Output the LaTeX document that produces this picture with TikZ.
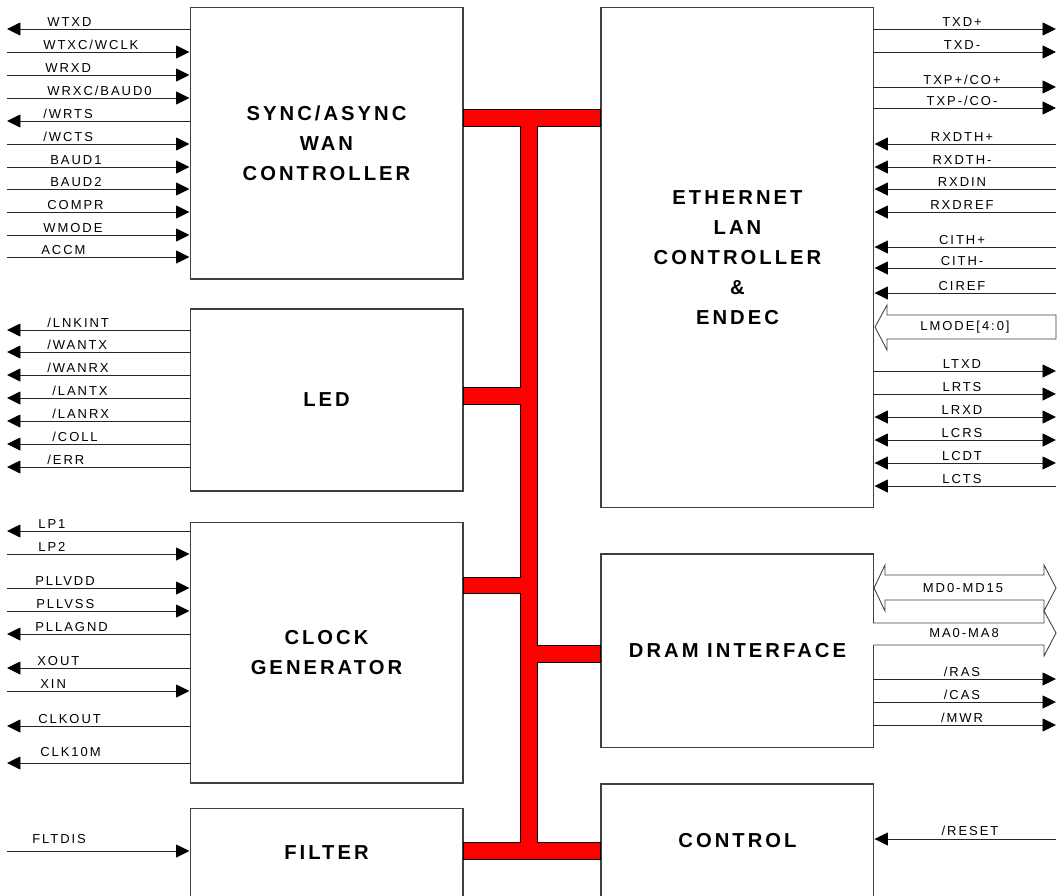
\documentclass[tikz,border=0pt]{standalone}
\usepackage{fontspec}
\setmainfont{Liberation Sans}
\newfontfamily\pinfont[LetterSpace=15]{Liberation Sans}
\newfontfamily\blkfont[LetterSpace=15]{Liberation Sans}
\usetikzlibrary{positioning,arrows.meta,calc}

\begin{document}
\begin{tikzpicture}[x=0.02cm, y=-0.02cm,
    >={Triangle[length=0.27cm,width=0.26cm,color=black]},
    blk/.style={draw=black!75, line width=0.6pt, minimum width=5.46cm, align=center, font=\blkfont\bfseries\fontsize{11.5}{17}\selectfont},
    pin/.style={draw=black!85, line width=0.5pt},
    lbl/.style={inner sep=0pt, font=\pinfont\fontsize{7.4}{9}\selectfont},
    hollow/.style={draw=black!75, line width=0.5pt, fill=white},
    bus/.style={fill=red, draw=black, line width=0.4pt}
]
\useasboundingbox (0,0) rectangle (1062,896);

    % Left column
    \node[blk, minimum height=5.44cm] (wan) at (326.5,143) {SYNC/ASYNC\\WAN\\CONTROLLER};
    \node[blk, minimum height=3.64cm, below=0.58cm of wan] (led) {LED};
    \node[blk, minimum height=5.22cm, below=0.6cm of led] (clk) {CLOCK\\GENERATOR};
    \node[blk, minimum height=1.8cm, below=0.48cm of clk] (filt) {FILTER};

    % Right column
    \node[blk, minimum height=10.02cm, right=2.74cm of wan.north east, anchor=north west] (eth) {ETHERNET\\LAN\\CONTROLLER\\\&\\ENDEC};
    \node[blk, minimum height=3.88cm, below=0.9cm of eth] (dram) {DRAM INTERFACE};
    \node[blk, minimum height=2.26cm, below=0.7cm of dram] (ctrl) {CONTROL};

    % Internal bus
    \draw[bus] (463,109) -- (600,109) -- (600,126) -- (537,126) -- (537,645) -- (600,645)
        -- (600,662) -- (537,662) -- (537,842) -- (600,842) -- (600,859) -- (463,859)
        -- (463,842) -- (520,842) -- (520,593) -- (463,593) -- (463,577) -- (520,577)
        -- (520,404) -- (463,404) -- (463,387) -- (520,387) -- (520,126) -- (463,126) -- cycle;

    % WAN pins
    \foreach \y/\x/\t/\d in {29/47/WTXD/<-, 52/43/{WTXC/WCLK}/->, 75/45/WRXD/->, 98/47/{WRXC/BAUD0}/->,
        121/43/{/WRTS}/<-, 144/43/{/WCTS}/->, 167/50/BAUD1/->, 189/50/BAUD2/->,
        212/47/COMPR/->, 235/43/WMODE/->, 257/41/ACCM/->} {
        \coordinate (w\y) at (7,\y);
        \draw[pin,\d] (w\y) -- (wan.west |- w\y);
        \node[lbl, anchor=base west] (wl\y) at (\x,\y-2.5) {\t};
    }

    % LED pins
    \foreach \y/\x/\t in {330/47/{/LNKINT}, 352/47/{/WANTX}, 375/47/{/WANRX}, 398/52/{/LANTX},
        421/52/{/LANRX}, 444/52/{/COLL}, 467/47/{/ERR}} {
        \coordinate (l\y) at (7,\y);
        \draw[pin,<-] (l\y) -- (led.west |- l\y);
        \node[lbl, anchor=base west] (ll\y) at (\x,\y-2.5) {\t};
    }

    % Clock pins
    \foreach \y/\x/\t/\d in {531/38/LP1/<-, 554/38/LP2/->, 588/35/PLLVDD/->, 611/36/PLLVSS/->,
        634/35/PLLAGND/<-, 668/37/XOUT/<-, 691/40/XIN/->, 726/38/CLKOUT/<-} {
        \coordinate (c\y) at (7,\y);
        \draw[pin,\d] (c\y) -- (clk.west |- c\y);
        \node[lbl, anchor=base west] (cl\y) at (\x,\y-2.5) {\t};
    }
    \coordinate (c763) at (7,763);
    \draw[pin,<-] (c763) -- (clk.west |- c763);
    \node[lbl, anchor=base west] (cl763) at (40,756) {CLK10M};

    % Filter pin
    \coordinate (f851) at (7,851);
    \draw[pin,->] (f851) -- (filt.west |- f851);
    \node[lbl, anchor=base west] (fl851) at (32,843) {FLTDIS};

    % Ethernet pins
    \foreach \y/\t/\d in {29/TXD+/<-, 52/TXD-/<-, 87/{TXP+/CO+}/<-, 108/{TXP-/CO-}/<-,
        144/RXDTH+/->, 167/RXDTH-/->, 189/RXDIN/->, 212/RXDREF/->,
        247/CITH+/->, 268/CITH-/->, 293/CIREF/->,
        371/LTXD/<-, 394/LRTS/<-, 417/LRXD/<->, 440/LCRS/<->, 463/LCDT/<->, 486/LCTS/->} {
        \coordinate (e\y) at (1056,\y);
        \draw[pin,\d] (e\y) -- (eth.east |- e\y);
        \node[lbl, anchor=base] (el\y) at (962,\y-2.5) {\t};
    }
    \draw[hollow] (875,327) -- (887,305) -- (887,315) -- (1056,315) -- (1056,339) -- (887,339) -- (887,350) -- cycle;
    \node[lbl] (lmode) at (965,327) {LMODE[4:0]};

    % DRAM pins
    \draw[hollow] (874,588) -- (885,565) -- (885,575) -- (1044,575) -- (1044,565) -- (1056,588)
        -- (1044,611) -- (1044,600) -- (885,600) -- (885,611) -- cycle;
    \node[lbl] (md) at (963,588) {MD0-MD15};
    \draw[hollow] (873,623) -- (1044,623) -- (1044,611) -- (1056,633) -- (1044,656) -- (1044,645) -- (873,645);
    \node[lbl] (ma) at (964,633) {MA0-MA8};
    \foreach \y/\t in {679/{/RAS}, 702/{/CAS}, 725/{/MWR}} {
        \coordinate (d\y) at (1056,\y);
        \draw[pin,<-] (d\y) -- (dram.east |- d\y);
        \node[lbl, anchor=base] (dl\y) at (962,\y-2.5) {\t};
    }

    % Control pin
    \coordinate (r839) at (1056,839);
    \draw[pin,->] (r839) -- (ctrl.east |- r839);
    \node[lbl, anchor=base] (rl839) at (970,835) {/RESET};

\end{tikzpicture}
\end{document}
